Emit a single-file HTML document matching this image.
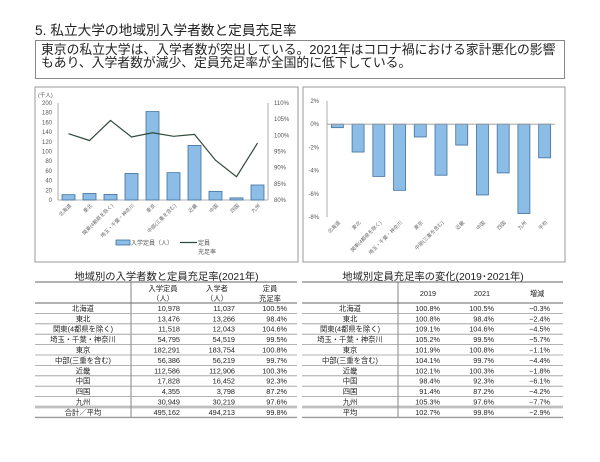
<!DOCTYPE html>
<html><head><meta charset="utf-8">
<style>
body{margin:0;background:#fff;width:600px;height:462px;overflow:hidden;position:relative;font-family:"Liberation Sans","Noto Sans CJK JP",sans-serif;color:#222}
.abs{position:absolute}
</style></head><body>
<div class="abs" style="left:35px;top:19px;font-size:13.7px;white-space:nowrap">5. 私立大学の地域別入学者数と定員充足率</div>
<div class="abs" style="left:35px;top:40px;width:528px;height:37px;border:1px solid #888;"></div>
<div class="abs" style="left:41px;top:44px;font-size:12.8px;line-height:12.8px;white-space:nowrap">東京の私立大学は、入学者数が突出している。2021年はコロナ禍における家計悪化の影響<br>もあり、入学者数が減少、定員充足率が全国的に低下している。</div>
<svg class="abs" style="left:0;top:0" width="600" height="462" id="svg">
<rect x="35" y="87" width="263" height="175" fill="none" stroke="#999"/>
<rect x="303" y="87" width="262" height="175" fill="none" stroke="#999"/>
</svg>
<div class="abs" style="left:35px;top:268px;width:263px;text-align:center;font-size:10.3px">地域別の入学者数と定員充足率(2021年)</div>
<div class="abs" style="left:302px;top:268px;width:262px;text-align:center;font-size:10.3px">地域別定員充足率の変化(2019･2021年)</div>
<div id="tables"></div>
<script>
const NS='http://www.w3.org/2000/svg';
const svg=document.getElementById('svg');
function el(tag,attrs,txt){const e=document.createElementNS(NS,tag);for(const k in attrs)e.setAttribute(k,attrs[k]);if(txt!==undefined)e.textContent=txt;svg.appendChild(e);return e;}
const regions=['北海道','東北','関東(4都県を除く)','埼玉・千葉・神奈川','東京','中部(三重を含む)','近畿','中国','四国','九州'];
const capacity=[10.978,13.476,11.518,54.795,182.291,56.386,112.586,17.828,4.355,30.949];
const fillRate=[100.5,98.4,104.6,99.5,100.8,99.7,100.3,92.3,87.2,97.6];
const leftTicks=[0,20,40,60,80,100,120,140,160,180,200];
const rightTicks=[80,85,90,95,100,105,110];
const changeCats=['北海道','東北','関東(4都県を除く)','埼玉・千葉・神奈川','東京','中部(三重を含む)','近畿','中国','四国','九州','平均'];
const changeVals=[-0.3,-2.4,-4.5,-5.7,-1.1,-4.4,-1.8,-6.1,-4.2,-7.7,-2.9];
const changeTicks=[2,0,-2,-4,-6,-8];
const L={x0:58,x1:268,y0:200,y1:103};
const yL=v=>L.y0-(v/200)*(L.y0-L.y1);
const yR=v=>L.y0-((v-80)/30)*(L.y0-L.y1);
const slot=(L.x1-L.x0)/regions.length;
const xL=i=>L.x0+slot*(i+0.5);
let t=el('text',{x:38,y:97,'font-size':5.5,fill:'#555'},'(千人)');

leftTicks.forEach(v=>{const e=el('text',{x:52,y:yL(v)+2,'font-size':6,fill:'#555','text-anchor':'end'},v);
});
rightTicks.forEach(v=>{const e=el('text',{x:274,y:yR(v)+2,'font-size':6,fill:'#555'},v+'%');
});
let a=el('line',{x1:L.x0,y1:L.y1,x2:L.x0,y2:L.y0,stroke:'#999','stroke-width':0.8});

a=el('line',{x1:L.x1,y1:L.y1,x2:L.x1,y2:L.y0,stroke:'#999','stroke-width':0.8});

a=el('line',{x1:L.x0,y1:L.y0,x2:L.x1,y2:L.y0,stroke:'#999','stroke-width':0.8});

capacity.forEach((v,i)=>{const b=el('rect',{x:xL(i)-6.5,y:yL(v),width:13,height:L.y0-yL(v),fill:'#8cbde6',stroke:'#41719c','stroke-width':0.8});
});
const pts=fillRate.map((v,i)=>xL(i)+','+yR(v)).join(' ');
let pl=el('polyline',{points:pts,fill:'none',stroke:'#2f4a3a','stroke-width':1.2});

regions.forEach((r,i)=>{const x=xL(i)+3,y=L.y0+6;const e=el('text',{x:x,y:y,'font-size':5,fill:'#666','text-anchor':'end',transform:`rotate(-45 ${x} ${y})`},r);
});
let lg=el('rect',{x:116,y:240,width:14,height:5,fill:'#8cbde6',stroke:'#41719c','stroke-width':0.8});

lg=el('text',{x:131,y:245,'font-size':6,fill:'#555'},'入学定員（人）');

lg=el('line',{x1:180,y1:242.5,x2:197,y2:242.5,stroke:'#2f4a3a','stroke-width':1.2});

lg=el('text',{x:198,y:245,'font-size':6,fill:'#555'},'定員');

lg=el('text',{x:198,y:254,'font-size':6,fill:'#555'},'充足率');

const R={x0:327,x1:555,top:101,bot:217,vTop:2,vBot:-8};
const yC=v=>R.top+(R.vTop-v)/(R.vTop-R.vBot)*(R.bot-R.top);
const slot2=(R.x1-R.x0)/changeCats.length;
const xC=i=>R.x0+slot2*(i+0.5);
changeTicks.forEach(v=>{const e=el('text',{x:319,y:yC(v)+2,'font-size':6,fill:'#555','text-anchor':'end'},v+'%');
});
a=el('line',{x1:R.x0,y1:R.top,x2:R.x0,y2:R.bot,stroke:'#999','stroke-width':0.8});

changeVals.forEach((v,i)=>{const y0=yC(0),y=yC(v);const b=el('rect',{x:xC(i)-6,y:Math.min(y0,y),width:12,height:Math.abs(y-y0),fill:'#8cbde6',stroke:'#41719c','stroke-width':0.8});
});
a=el('line',{x1:R.x0,y1:yC(0),x2:R.x1,y2:yC(0),stroke:'#999','stroke-width':0.8});

changeCats.forEach((r,i)=>{const x=xC(i)+3,y=R.bot+6;const e=el('text',{x:x,y:y,'font-size':5,fill:'#666','text-anchor':'end',transform:`rotate(-45 ${x} ${y})`},r);
});
const tRegions=['北海道','東北','関東(4都県を除く)','埼玉・千葉・神奈川','東京','中部(三重を含む)','近畿','中国','四国','九州'];
const t1cap=['10,978','13,476','11,518','54,795','182,291','56,386','112,586','17,828','4,355','30,949','495,162'];
const t1ent=['11,037','13,266','12,043','54,519','183,754','56,219','112,906','16,452','3,798','30,219','494,213'];
const t1rate=['100.5%','98.4%','104.6%','99.5%','100.8%','99.7%','100.3%','92.3%','87.2%','97.6%','99.8%'];
const t2a=['100.8%','100.8%','109.1%','105.2%','101.9%','104.1%','102.1%','98.4%','91.4%','105.3%','102.7%'];
const t2b=['100.5%','98.4%','104.6%','99.5%','100.8%','99.7%','100.3%','92.3%','87.2%','97.6%','99.8%'];
const t2c=['−0.3%','−2.4%','−4.5%','−5.7%','−1.1%','−4.4%','−1.8%','−6.1%','−4.2%','−7.7%','−2.9%'];
function txt(x,y,s,anchor,name){const e=el('text',{x:x,y:y,'font-size':7.3,fill:'#222','text-anchor':anchor},s);
return e;}
function hl(x1,x2,y,w,name){const e=el('line',{x1:x1,x2:x2,y1:y,y2:y,stroke:'#999','stroke-width':w});
}
function table(X0,X1,div,cols,header,last,name){
 const top=282,hb=303,rh=10.4;
 hl(X0,X1,top,1.6,name+'-top-border');hl(X0,X1,hb,1.6,name+'-header-border');
 let v=el('line',{x1:div,x2:div,y1:top,y2:hb+rh*11,stroke:'#666','stroke-width':0.8});
 
 header.forEach((h,j)=>{h.forEach((s,k)=>txt(cols[j].hx,h.length>1?291+k*10:296,s,'middle',name+'-header'));});
 for(let i=0;i<11;i++){const y=hb+rh*(i+1);
  const lab=i<10?tRegions[i]:last;
  txt((X0+div)/2,y-2.5,lab,'middle',name+'-row-label');
  cols.forEach(c=>txt(c.x,y-2.5,c.d[i],'end',name+'-cell'));
  if(i===9){hl(X0,X1,y-0.8,0.8,name+'-total-line');hl(X0,X1,y+0.8,0.8,name+'-total-line2');}
  else hl(X0,X1,y,i===10?1.4:0.8,name+'-row-line');}
}
table(35,297,131,[{x:180,hx:163,d:t1cap},{x:235,hx:217,d:t1ent},{x:287,hx:270,d:t1rate}],[['入学定員','（人）'],['入学者','（人）'],['定員','充足率']],'合計／平均','left-table');
table(302,563,398,[{x:440,hx:428,d:t2a},{x:494,hx:482,d:t2b},{x:550,hx:537,d:t2c}],[['2019'],['2021'],['増減']],'平均','right-table');
</script>
</body></html>
